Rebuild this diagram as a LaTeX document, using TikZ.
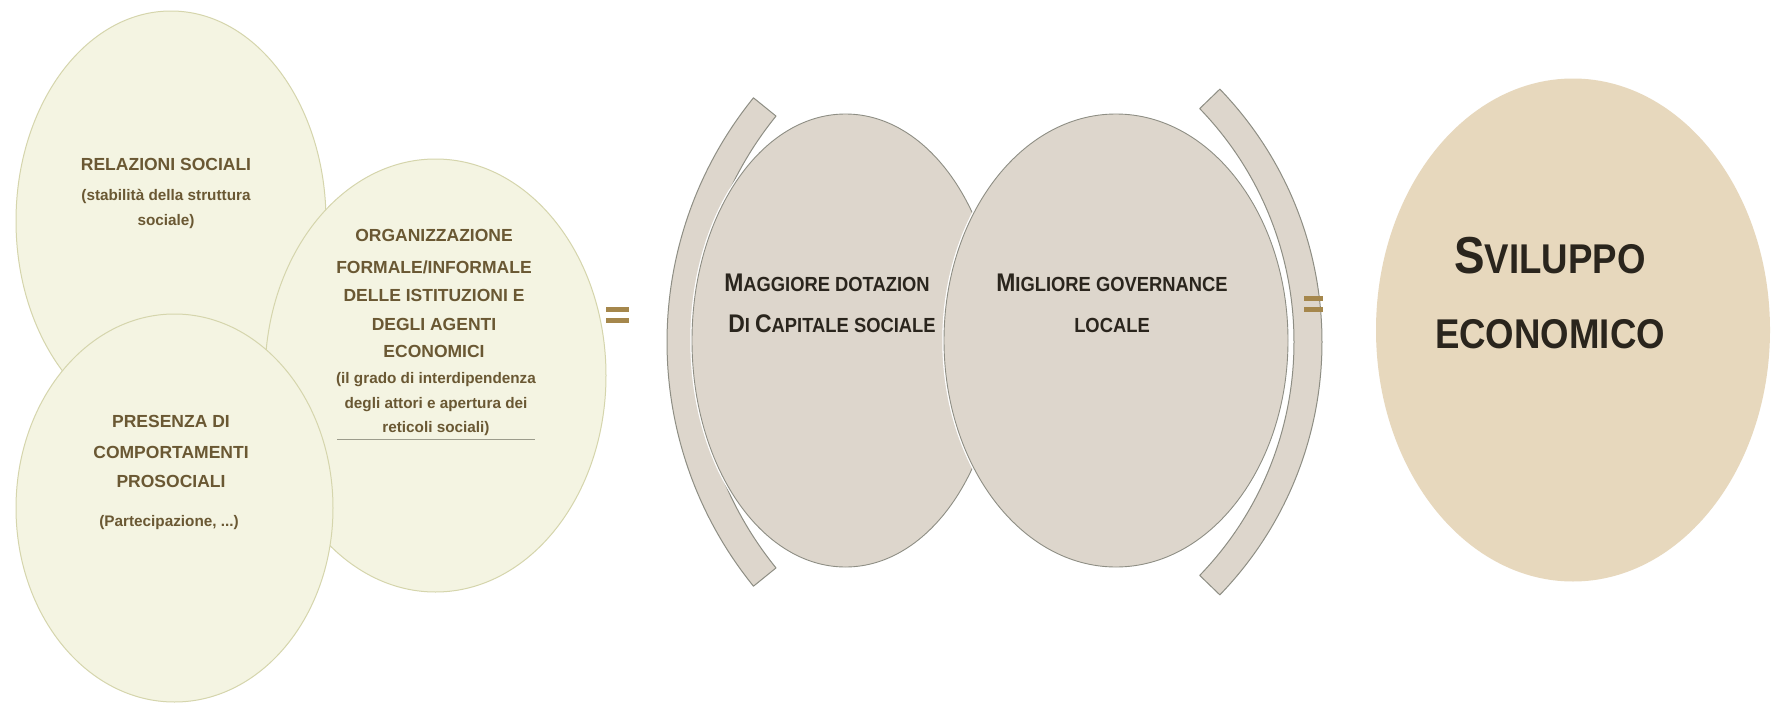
\documentclass[tikz,border=0pt]{standalone}
\usepackage{fontspec}
\setmainfont{Liberation Sans}
\newfontfamily\narrowA[FakeStretch=0.9]{Liberation Sans}
\newfontfamily\narrowB[FakeStretch=0.88]{Liberation Sans}
\usetikzlibrary{shapes.geometric}
\definecolor{creamfill}{HTML}{F4F4E2}
\definecolor{creamline}{HTML}{D5D5AC}
\definecolor{midfill}{HTML}{DDD6CC}
\definecolor{midline}{HTML}{8E8E84}
\definecolor{devfill}{HTML}{E7D8BD}
\definecolor{lefttext}{HTML}{6A5833}
\definecolor{darktext}{HTML}{2A251D}
\definecolor{eqc}{HTML}{A5874C}
\definecolor{ulc}{HTML}{9C9C8C}
\newcommand\Sm[1]{{\fontsize{20.4}{20.4}\selectfont #1}}
\newcommand\Fs[1]{{\fontsize{41.6}{41.6}\selectfont #1}}
\begin{document}
\begin{tikzpicture}[x=1pt,y=-1pt,
  lell/.style={ellipse, draw=creamline, fill=creamfill, line width=1pt, inner sep=0pt},
  mell/.style={ellipse, draw=midline, fill=midfill, line width=0.9pt, inner sep=0pt,
               preaction={draw=white, line width=3.5pt}},
  fell/.style={ellipse, fill=devfill, inner sep=0pt},
  bracketshape/.style={draw=midline, fill=midfill, line width=1pt, line join=round},
  ltxt/.style={anchor=base, text=lefttext, inner sep=0pt, font=\fontsize{17.5}{17.5}\selectfont\bfseries},
  lsm/.style={anchor=base, text=lefttext, inner sep=0pt, font=\fontsize{15.3}{15.3}\selectfont\bfseries},
  mtxt/.style={anchor=base, text=darktext, inner sep=0pt, font=\narrowA\bfseries\fontsize{25.5}{25.5}\selectfont},
  ftxt/.style={anchor=base, text=darktext, inner sep=0pt, font=\narrowB\bfseries\fontsize{52}{52}\selectfont},
  eqbar/.style={fill=eqc}
]
\fill[white] (0,0) rectangle (1773,704);
\useasboundingbox (0,0) rectangle (1773,704);

% left group
\node[lell, minimum width=310pt, minimum height=420pt] (relaz) at (171,221) {};
\node[lell, minimum width=341pt, minimum height=433pt] (organ) at (435.5,375.5) {};
\node[lell, minimum width=317pt, minimum height=388pt] (presen) at (174.5,508) {};

\node[ltxt] (a1) at (166,170) {RELAZIONI SOCIALI};
\node[lsm]  (a2) at (166,200) {(stabilità della struttura};
\node[lsm]  (a3) at (166,225) {sociale)};

\node[ltxt] (b1) at (434,241) {ORGANIZZAZIONE};
\node[ltxt] (b2) at (434,273.5) {FORMALE/INFORMALE};
\node[ltxt] (b3) at (434,301.5) {DELLE ISTITUZIONI E};
\node[ltxt] (b4) at (434,330) {DEGLI AGENTI};
\node[ltxt] (b5) at (434,357) {ECONOMICI};
\node[lsm]  (b6) at (436,383) {(il grado di interdipendenza};
\node[lsm]  (b7) at (436,408.5) {degli attori e apertura dei};
\node[lsm]  (b8) at (436,432) {reticoli sociali)};
\coordinate (ulA) at (337,439);
\coordinate (ulB) at (535,439);
\draw[ulc, line width=0.9pt] (ulA) -- (ulB);

\node[ltxt] (c1) at (171,427) {PRESENZA DI};
\node[ltxt] (c2) at (171,458) {COMPORTAMENTI};
\node[ltxt] (c3) at (171,487) {PROSOCIALI};
\node[lsm]  (c4) at (169,526) {(Partecipazione, ...)};

% first equals sign
\fill[eqbar] (606,307) rectangle (629,311.5);
\fill[eqbar] (606,318) rectangle (629,322.5);

% brackets
\coordinate (lbc) at (1055,342);
\coordinate (rbc) at (958,342);
\draw[bracketshape] ([shift={(141:388)}]lbc) arc[start angle=141, end angle=219, radius=388]
   -- ([shift={(219:359)}]lbc) arc[start angle=219, end angle=141, radius=359] -- cycle;
\draw[bracketshape] ([shift={(-44:364)}]rbc) arc[start angle=-44, end angle=44, radius=364]
   -- ([shift={(44:336)}]rbc) arc[start angle=44, end angle=-44, radius=336] -- cycle;

% middle ellipses
\node[mell, minimum width=307pt, minimum height=453pt] (dotaz) at (845.5,340.5) {};
\node[mell, minimum width=344pt, minimum height=453pt] (gover) at (1116,340.5) {};

\node[mtxt] (d1) at (827,291) {M\Sm{AGGIORE DOTAZION}};
\node[mtxt] (d2) at (832,332) {D\Sm{I }C\Sm{APITALE SOCIALE}};
\node[mtxt] (e1) at (1112,291) {M\Sm{IGLIORE GOVERNANCE}};
\node[mtxt] (e2) at (1112,332) {\Sm{LOCALE}};

% second equals sign
\fill[eqbar] (1304,296) rectangle (1323,300.5);
\fill[eqbar] (1304,307) rectangle (1323,311.5);

% result
\node[fell, minimum width=394pt, minimum height=503pt] (svil) at (1573,330) {};
\node[ftxt] (f1) at (1550,273) {S\Fs{VILUPPO}};
\node[ftxt] (f2) at (1550,348) {\Fs{ECONOMICO}};
\end{tikzpicture}
\end{document}
